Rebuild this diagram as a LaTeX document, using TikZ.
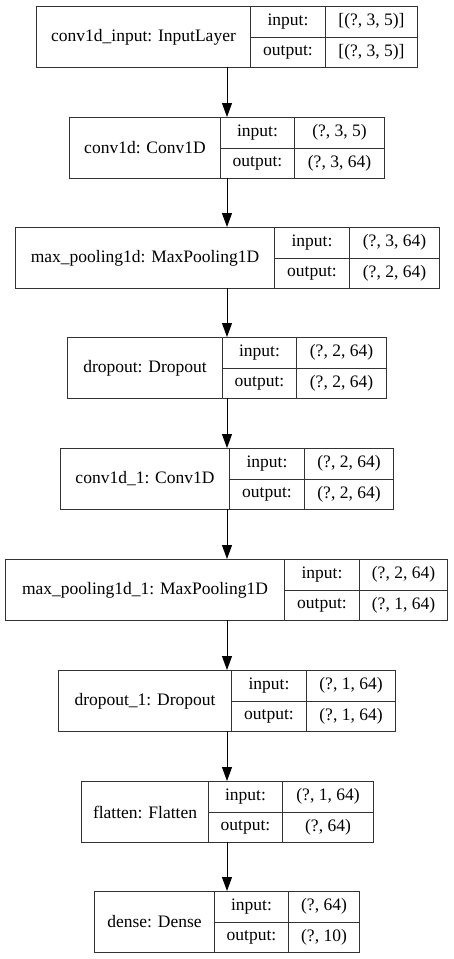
\documentclass[tikz,border=0pt]{standalone}
\usepackage{fontspec}
\setmainfont{Liberation Serif}
\usetikzlibrary{arrows.meta}

% one layer: name, left, split 1, split 2, right, top, label, input shape, output shape
\newcommand{\layer}[9]{%
  \pgfmathsetmacro\cellwa{#3-#2}%
  \pgfmathsetmacro\cellwb{#4-#3}%
  \pgfmathsetmacro\cellwc{#5-#4}%
  \node[cell, minimum width=\cellwa pt, minimum height=61pt] (#1) at (#2,#6) {#7};
  \node[cell, minimum width=\cellwb pt, minimum height=30.5pt] (#1-il) at (#3,#6) {input:};
  \node[cell, minimum width=\cellwb pt, minimum height=30.5pt] (#1-ol) at (#3,#6+30.5) {output:};
  \node[cell, minimum width=\cellwc pt, minimum height=30.5pt] (#1-iv) at (#4,#6) {#8};
  \node[cell, minimum width=\cellwc pt, minimum height=30.5pt] (#1-ov) at (#4,#6+30.5) {#9};
  \coordinate (#1-top) at (227,#6);
  \coordinate (#1-bot) at (227,#6+61);
}

\begin{document}
\begin{tikzpicture}
  [x=1pt, y=-1pt,
    cell/.style={draw=black!80, line width=1pt, inner sep=0pt,
    anchor=north west, font=\fontsize{17.5}{20}\selectfont},
    conn/.style={draw=black, line width=1pt,
    -{Triangle[length=14pt,width=10pt]}}]
  \useasboundingbox (0,0) rectangle (453,959);
  \layer{L1}{36}{250}{325}{417}{6}{conv1d\_input: InputLayer}{[(?, 3, 5)]}{[(?, 3, 5)]}
  \layer{L2}{69}{220}{294}{384}{117}{conv1d: Conv1D}{(?, 3, 5)}{(?, 3, 64)}
  \layer{L3}{15}{274}{349}{439}{227}{max\_pooling1d: MaxPooling1D}{(?, 3, 64)}{(?, 2, 64)}
  \layer{L4}{67}{222}{296}{386}{337}{dropout: Dropout}{(?, 2, 64)}{(?, 2, 64)}
  \layer{L5}{60}{229}{304}{393}{448}{conv1d\_1: Conv1D}{(?, 2, 64)}{(?, 2, 64)}
  \layer{L6}{5}{284}{359}{447}{559}{max\_pooling1d\_1: MaxPooling1D}{(?, 2, 64)}{(?, 1, 64)}
  \layer{L7}{58}{231}{306}{395}{670}{dropout\_1: Dropout}{(?, 1, 64)}{(?, 1, 64)}
  \layer{L8}{81}{208}{282}{373}{781}{flatten: Flatten}{(?, 1, 64)}{(?, 64)}
  \layer{L9}{94}{214}{288}{359}{891}{dense: Dense}{(?, 64)}{(?, 10)}
  \draw[conn] (L1-bot) -- (L2-top);
  \draw[conn] (L2-bot) -- (L3-top);
  \draw[conn] (L3-bot) -- (L4-top);
  \draw[conn] (L4-bot) -- (L5-top);
  \draw[conn] (L5-bot) -- (L6-top);
  \draw[conn] (L6-bot) -- (L7-top);
  \draw[conn] (L7-bot) -- (L8-top);
  \draw[conn] (L8-bot) -- (L9-top);
\end{tikzpicture}
\end{document}
